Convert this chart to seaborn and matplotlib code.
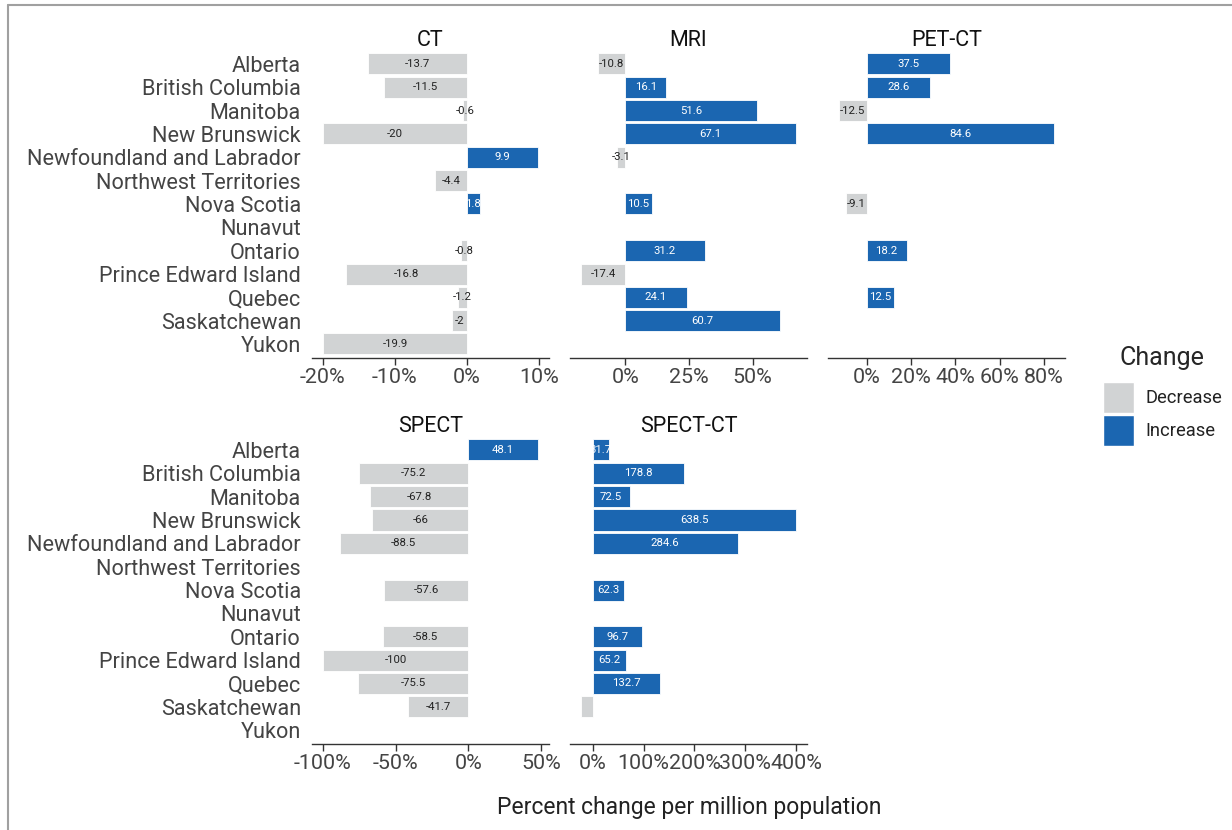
import numpy as np
import pandas as pd
import matplotlib
matplotlib.use("Agg")
import matplotlib.pyplot as plt
from matplotlib.patches import Patch
from matplotlib.lines import Line2D
from matplotlib.ticker import FuncFormatter
import seaborn as sns

sns.set_theme(style="white")
plt.rcParams["font.family"] = ["Roboto", "DejaVu Sans"]

nan = np.nan

provinces = [
    "Alberta", "British Columbia", "Manitoba", "New Brunswick",
    "Newfoundland and Labrador", "Northwest Territories", "Nova Scotia",
    "Nunavut", "Ontario", "Prince Edward Island", "Quebec", "Saskatchewan",
    "Yukon",
]
modalities = ["CT", "MRI", "PET-CT", "SPECT", "SPECT-CT"]

ct = [-13.7, -11.5, -0.6, -20, 9.9, -4.4, 1.8, nan, -0.8, -16.8, -1.2, -2, -19.9]
mri = [-10.8, 16.1, 51.6, 67.1, -3.1, nan, 10.5, nan, 31.2, -17.4, 24.1, 60.7, nan]
pet_ct = [37.5, 28.6, -12.5, 84.6, nan, nan, -9.1, nan, 18.2, nan, 12.5, nan, nan]
spect = [48.1, -75.2, -67.8, -66, -88.5, nan, -57.6, nan, -58.5, -100, -75.5, -41.7, nan]
spect_ct = [31.7, 178.8, 72.5, 638.5, 284.6, nan, 62.3, nan, 96.7, 65.2, 132.7, -23.5, nan]

# value labels that are left off the chart
hidden_labels = {("SPECT-CT", "Saskatchewan")}

# x-axis ticks per panel (percent) and the upper scale limit for SPECT-CT
x_ticks = {
    "CT": [-20, -10, 0, 10],
    "MRI": [0, 25, 50],
    "PET-CT": [0, 20, 40, 60, 80],
    "SPECT": [-100, -50, 0, 50],
    "SPECT-CT": [0, 100, 200, 300, 400],
}
upper_limit = {"SPECT-CT": 400}

series = {"CT": ct, "MRI": mri, "PET-CT": pet_ct, "SPECT": spect, "SPECT-CT": spect_ct}
rows = []
for mod in modalities:
    for prov, v in zip(provinces, series[mod]):
        if np.isnan(v):
            continue
        cap = upper_limit.get(mod, np.inf)
        rows.append({
            "modality": mod,
            "province": prov,
            "value": v,
            "shown": min(v, cap),
            "change": "Increase" if v > 0 else "Decrease",
        })
df = pd.DataFrame(rows)

GRAY = "#D1D3D4"
BLUE = "#1B66B1"
palette = {"Decrease": GRAY, "Increase": BLUE}
TICK_GRAY = "#444444"

W, H = 1232, 830
fig = plt.figure(figsize=(W / 100, H / 100), dpi=100)

col_left = [312, 570, 828]
panel_w = 237
row_top = [50, 436]
panel_h = 308

def fig_rect(x, y, w, h):
    return [x / W, 1 - (y + h) / H, w / W, h / H]

pct = FuncFormatter(lambda v, _: f"{v:g}%")

for i, mod in enumerate(modalities):
    r, c = divmod(i, 3)
    ax = fig.add_axes(fig_rect(col_left[c], row_top[r], panel_w, panel_h))
    sub = df[df["modality"] == mod]
    sns.barplot(
        data=sub, x="shown", y="province", hue="change",
        order=provinces, hue_order=["Decrease", "Increase"],
        palette=palette, saturation=1, orient="h", dodge=False, width=0.9,
        edgecolor="white", linewidth=0.6, legend=False, ax=ax,
    )
    for _, row in sub.iterrows():
        if (mod, row["province"]) in hidden_labels:
            continue
        ax.text(
            row["shown"] / 2, provinces.index(row["province"]), f"{row['value']:g}",
            ha="center", va="center", fontsize=8.2,
            color="white" if row["change"] == "Increase" else "#222222",
        )
    lo = min(sub["shown"].min(), 0)
    hi = max(sub["shown"].max(), 0)
    pad = (hi - lo) * 0.05
    ax.set_xlim(lo - pad, hi + pad)
    ax.set_ylim(len(provinces) - 0.4, -0.6)
    ax.set_xticks(x_ticks[mod])
    ax.xaxis.set_major_formatter(pct)
    ax.set_xlabel("")
    ax.set_ylabel("")
    ax.set_title(mod, fontsize=15.5, color="#111111", pad=3)
    for s in ["top", "right", "left"]:
        ax.spines[s].set_visible(False)
    ax.spines["bottom"].set_color("#333333")
    ax.spines["bottom"].set_linewidth(1.0)
    ax.tick_params(axis="x", bottom=True, length=5, width=1.0, color="#333333",
                   labelsize=15.4, labelcolor=TICK_GRAY, pad=2)
    if c == 0:
        ax.tick_params(axis="y", left=False, labelsize=15.6, labelcolor=TICK_GRAY, pad=2)
    else:
        ax.tick_params(axis="y", left=False, labelleft=False)
    ax.grid(False)

fig.text(689 / W, 1 - 807 / H, "Percent change per million population",
         ha="center", va="center", fontsize=16.5, color="#222222")

handles = [Patch(facecolor=GRAY, edgecolor="white", label="Decrease"),
           Patch(facecolor=BLUE, edgecolor="white", label="Increase")]
leg = fig.legend(
    handles=handles, title="Change", loc="upper left",
    bbox_to_anchor=(1097 / W, 1 - 340 / H), frameon=False,
    fontsize=13.2, title_fontsize=18, handlelength=1.7, handleheight=2.23,
    labelspacing=0.1, handletextpad=0.65, alignment="center",
    borderaxespad=0, borderpad=0.3,
)
leg._legend_box.sep = 9
for t in leg.get_texts():
    t.set_color("#222222")

# thin border along the top and left edges
fig.add_artist(Line2D([8 / W, 1], [1 - 5 / H, 1 - 5 / H], color="#A0A0A0", lw=1.5))
fig.add_artist(Line2D([8 / W, 8 / W], [0, 1 - 5 / H], color="#A0A0A0", lw=1.5))

fig.savefig("out.png", dpi=100)
